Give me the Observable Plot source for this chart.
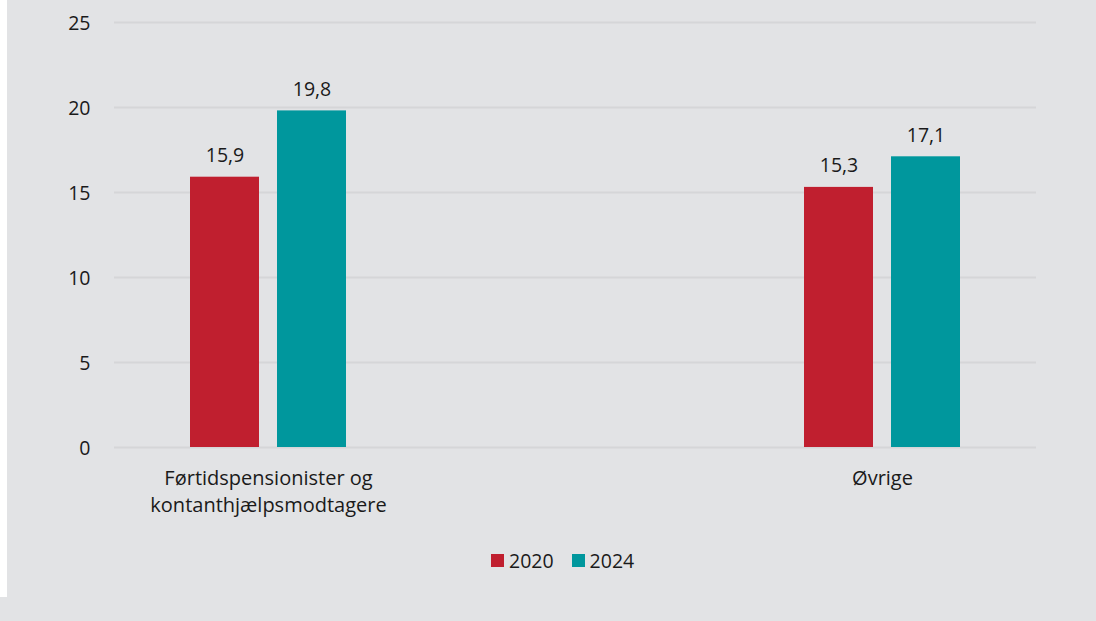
<!DOCTYPE html>
<html><head><meta charset="utf-8">
<script src="https://cdn.jsdelivr.net/npm/d3@7"></script>
<script src="https://cdn.jsdelivr.net/npm/@observablehq/plot@0.6"></script>
<style>
html,body{margin:0;padding:0;background:#e2e3e5;width:1096px;height:621px;overflow:hidden;font-family:"Open Sans",sans-serif;}
#strip{position:absolute;left:0;top:0;width:7px;height:597px;background:#ffffff;}
#chart{position:absolute;left:0;top:0;}
#legend{position:absolute;top:547px;left:491px;display:flex;align-items:center;font-size:19.5px;color:#1a1a1a;}
.item{display:flex;align-items:center;margin-right:18px;}
.sw{width:13px;height:13px;margin-right:5px;}
</style></head><body>
<div id="strip"></div><div id="chart"></div><div id="legend"></div>
<script>
const categories = ["Førtidspensionister og\nkontanthjælpsmodtagere", "Øvrige"];
const years = ["2020", "2024"];
const values2020 = [15.9, 15.3];
const values2024 = [19.8, 17.1];
const colors = ["#c01f2f", "#00979d"];
const yTicks = [0, 5, 10, 15, 20, 25];

const rows2020 = categories.map((c, i) => ({category: c, year: years[0], value: values2020[i]}));
const rows2024 = categories.map((c, i) => ({category: c, year: years[1], value: values2024[i]}));
const fmt = v => v.toFixed(1).replace(".", ",");

// each category band holds both bars: bar width 69, gap 18
const barGap = 87;
const half = 43.5;

const chart = Plot.plot({
  width: 1096,
  height: 530,
  marginLeft: 114,
  marginRight: 60,
  marginTop: 22,
  marginBottom: 83,
  style: {background: "transparent", fontFamily: "Open Sans", fontSize: "19.5px", color: "#1a1a1a"},
  x: {domain: categories, paddingInner: 0.746, paddingOuter: 0.1238},
  y: {domain: [0, 25]},
  color: {domain: years, range: colors},
  marks: [
    Plot.ruleY(yTicks, {stroke: "#d5d6d8", strokeWidth: 2}),
    Plot.axisY({ticks: yTicks, tickSize: 0, tickPadding: 24, dy: 1, label: null, fill: "#1a1a1a", fontSize: 19.5}),
    Plot.barY(rows2020, {x: "category", y: "value", fill: "year", insetRight: barGap}),
    Plot.barY(rows2024, {x: "category", y: "value", fill: "year", insetLeft: barGap}),
    Plot.text(rows2020, {x: "category", y: "value", text: d => fmt(d.value), lineAnchor: "bottom", dy: -15, dx: -half, fill: "#1a1a1a", fontSize: 19.5}),
    Plot.text(rows2024, {x: "category", y: "value", text: d => fmt(d.value), lineAnchor: "bottom", dy: -15, dx: half, fill: "#1a1a1a", fontSize: 19.5}),
    Plot.axisX({tickSize: 0, tickPadding: 19, label: null, lineHeight: 1.32, fill: "#1a1a1a", fontSize: 20})
  ]
});
document.getElementById("chart").appendChild(chart);

const legend = document.getElementById("legend");
years.forEach((y, i) => {
  const item = document.createElement("div");
  item.className = "item";
  const sw = document.createElement("div");
  sw.className = "sw";
  sw.style.background = colors[i];
  const t = document.createElement("span");
  t.textContent = y;
  item.appendChild(sw);
  item.appendChild(t);
  legend.appendChild(item);
});
</script>
</body></html>
